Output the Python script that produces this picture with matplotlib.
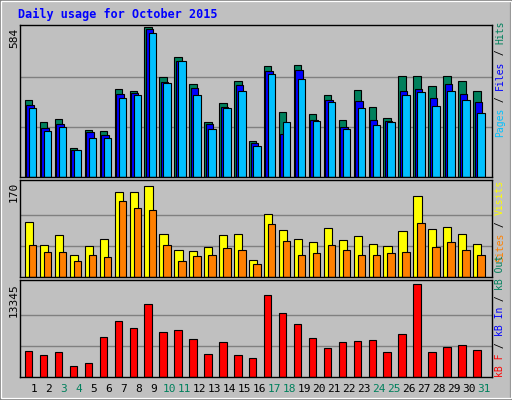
import matplotlib
matplotlib.use("Agg")
import matplotlib.pyplot as plt
from matplotlib.patches import Rectangle

days = list(range(1, 32))
weekend = [3, 4, 10, 11, 17, 18, 24, 25, 31]
hits = [299,214,224,113,183,179,342,335,584,389,465,361,214,286,371,139,429,254,433,246,318,222,338,270,230,393,393,353,393,373,334]
files = [278,192,207,105,175,163,323,327,576,369,451,346,207,270,357,131,413,167,417,222,298,195,294,222,218,334,342,306,361,322,290]
pages = [266,179,195,103,151,151,306,318,560,365,449,318,187,266,334,119,401,214,381,218,290,187,266,203,214,318,330,274,334,298,250]
visits = [101,59,76,41,56,70,155,155,166,79,50,47,54,77,79,31,114,86,70,63,90,67,74,61,56,83,148,88,92,79,61]
sites = [59,45,45,29,40,36,139,126,123,59,29,38,41,52,50,23,96,65,41,43,58,49,40,41,43,45,99,54,63,50,40]
kbf = [3700,3120,3600,1510,1950,5750,8080,7060,10420,6480,6770,5450,3260,5020,3120,2680,11740,9110,7650,5600,4140,5020,5160,5310,3560,6190,13345,3560,4290,4580,3850]

W, H = 512, 400
fig = plt.figure(figsize=(W/100, H/100), dpi=100, facecolor="#C0C0C0")
fig.patches.append(Rectangle((0, 0), 1, 1, transform=fig.transFigure, fill=False,
                             edgecolor="#808080", lw=3))
fig.patches.append(Rectangle((0.002, 0.004), 0.996, 0.994, transform=fig.transFigure, fill=False,
                             edgecolor="white", lw=1))
mono = "DejaVu Sans Mono"
fig.text(18/W, 1-14/H, "Daily usage for October 2015", color="#0000FF", fontweight="bold",
         family=mono, fontsize=8.5, va="center")

def mkax(top, bottom):
    ax = fig.add_axes([20/W, 1-bottom/H, 472/W, (bottom-top)/H])
    ax.set_facecolor("#C0C0C0")
    ax.set_xlim(1-14/15, 31+10/15)
    ax.set_xticks([])
    ax.set_yticks([])
    for s in ax.spines.values():
        s.set_color("black"); s.set_linewidth(1)
    return ax

def glines(ax, m):
    for f in (1/3, 2/3):
        ax.axhline(m*f, color="#808080", lw=1, zorder=0)

ek = dict(edgecolor="black", linewidth=0.8, align="edge")
ax1 = mkax(25, 177)
m1 = max(hits)
ax1.set_ylim(0, m1*1.01)
glines(ax1, m1)
ax1.bar([d-0.6 for d in days], hits, 0.5, color="#00805C", **ek)
ax1.bar([d-0.5 for d in days], files, 0.5, color="#0000FF", **ek)
ax1.bar([d-0.33 for d in days], pages, 0.5, color="#00C0FF", **ek)

ax2 = mkax(180, 277)
m2 = 170
ax2.set_ylim(0, m2*1.04)
glines(ax2, m2)
ax2.bar([d-0.6 for d in days], visits, 0.55, color="#FFFF00", **ek)
ax2.bar([d-0.33 for d in days], sites, 0.5, color="#FF8000", **ek)

ax3 = mkax(280, 377)
m3 = max(kbf)
ax3.set_ylim(0, m3*1.04)
glines(ax3, m3)
ax3.bar([d-0.6 for d in days], kbf, 0.5, color="#FF0000", **ek)

for d in days:
    x = (20 + (d - (1-14/15)) * 15) / W
    fig.text(x, 1-389/H, str(d), color="#00805C" if d in weekend else "black",
             family=mono, fontsize=8, ha="center", va="center")

for lab, yc in (("584", 38), ("170", 192), ("13345", 300)):
    fig.text(14/W, 1-yc/H, lab, rotation=90, family=mono, fontsize=8, ha="center", va="center")

renderer = fig.canvas.get_renderer()

def vlabel(parts, ybottom):
    y = ybottom
    for txt, col in parts:
        t = fig.text(500/W, 1-y/H, txt, rotation=90, color=col, family=mono, fontsize=7,
                     ha="center", va="bottom")
        y -= len(txt) * 0.6 * 7 * 100 / 72

vlabel([("Pages", "#00C0FF"), (" / ", "#000000"), ("Files", "#0000FF"), (" / ", "#000000"), ("Hits", "#00805C")], 137)
vlabel([("Sites", "#FF8000"), (" / ", "#000000"), ("Visits", "#FFFF00")], 262)
vlabel([("kB F", "#FF0000"), (" / ", "#000000"), ("kB In", "#0000FF"), (" / ", "#000000"), ("kB Out", "#00805C")], 377)

fig.savefig("out.png", dpi=100, facecolor=fig.get_facecolor())
